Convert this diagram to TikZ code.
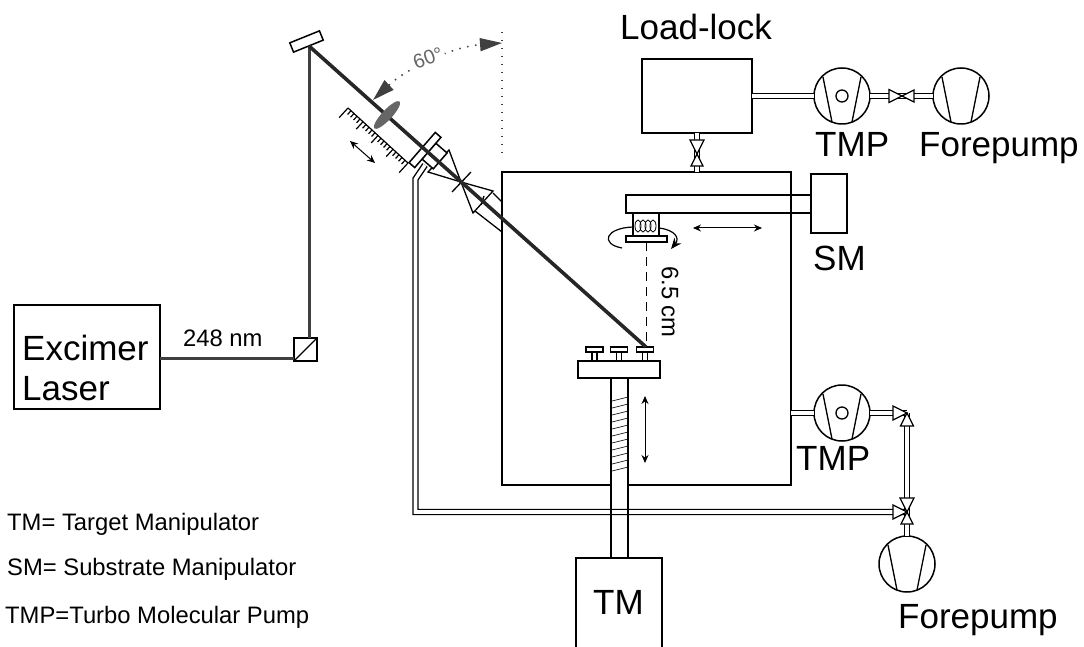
\documentclass[tikz,border=0pt]{standalone}
\usepackage{fontspec}
\setmainfont{Liberation Sans}
\usetikzlibrary{calc,arrows.meta,shapes.geometric}
\tikzset{
  box/.style={draw,line width=1.5pt,inner sep=0pt,outer sep=0pt},
  pump/.style={draw,circle,line width=1.5pt,minimum size=56pt,inner sep=0pt,outer sep=0pt},
  pipe/.style={line width=1.4pt,double,double distance=3.6pt},
  valve/.style={draw,fill=white,line width=1.2pt},
  biglabel/.style={anchor=base west,inner sep=0pt,font=\fontsize{35}{35}\selectfont},
  smalllabel/.style={anchor=base west,inner sep=0pt,font=\fontsize{23.8}{24}\selectfont},
  beam/.style={line width=3.6pt,black!85},
  thinbeam/.style={line width=3pt,black!75},
  shift arrow/.style={line width=1pt,{Stealth[length=8pt,width=7pt]}-{Stealth[length=8pt,width=7pt]}},
  angle dots/.style={black!75,line width=1.5pt,dash pattern=on 1.5pt off 6.5pt},
  angle tip/.style={{Triangle[length=22pt,width=13pt]}-{Triangle[length=22pt,width=13pt]}}
}
\begin{document}
\begin{tikzpicture}[x=1pt,y=-1pt]
\useasboundingbox (0,0) rectangle (1084,647);
% chamber and pumps
\node[box,minimum width=289pt,minimum height=313pt] (chamber) at (646.5,328.5) {};
\node[box,minimum width=110pt,minimum height=74pt] (loadlock) at (697,96) {};
\node[box,minimum width=36pt,minimum height=59pt] (sm) at (829,203.5) {};
\node[box,minimum width=185pt,minimum height=18pt] (arm) at (718.5,204) {};
\node[pump] (tmpa) at (842,96) {};
\node[pump] (forea) at (961,96) {};
\node[pump] (tmpb) at (842,413) {};
\node[pump] (foreb) at (907,564) {};
\foreach \pumpname in {tmpa,forea,tmpb,foreb}{
  \draw[line width=1.3pt] ($(\pumpname)+(-19,-19)$) -- ($(\pumpname)+(-10,26)$);
  \draw[line width=1.3pt] ($(\pumpname)+(19,-19)$) -- ($(\pumpname)+(10,26)$);
}
\foreach \pumpname in {tmpa,tmpb}
  \draw[line width=1.3pt] (\pumpname) circle (6);
% target stage
\node[box,fill=white,minimum width=17pt,minimum height=180pt] (shaft) at (619.5,468) {};
\node[box,minimum width=82pt,minimum height=17pt,fill=white] (stage) at (619,369.5) {};
\foreach \x in {594.5,619,645}{
  \draw[line width=1.3pt] (\x-2.5,352) rectangle (\x+2.5,361);
  \draw[line width=1.3pt,fill=white] (\x-8.5,347) rectangle (\x+8.5,352);
}
\foreach \y in {397,404,...,469}
  \draw[line width=.6pt] (612,\y+4) -- (628,\y);
\draw[shift arrow] (645,396) -- (645,463);
\node[inner sep=0pt,minimum width=86pt,minimum height=89pt] (tmbox) at (619,602.5) {};
\draw[line width=1.5pt] (tmbox.south west) -- (tmbox.north west) -- (tmbox.north east) -- (tmbox.south east);
% pipes and valves
\coordinate (lockv) at (697,154);
\coordinate (pumpv) at (902,96);
\coordinate (cornerv) at (907,413);
\coordinate (lowv) at (907,512);
\coordinate (pipebend) at (415.5,179);
\draw[pipe] (loadlock) -- (tmpa);
\draw[pipe] (tmpa) -- (pumpv);
\draw[pipe] (pumpv) -- (forea);
\draw[pipe] (loadlock.south) -- (lockv);
\draw[pipe] (lockv) -- (lockv |- chamber.north);
\draw[pipe] (chamber.east |- tmpb) -- (tmpb);
\draw[pipe] (tmpb) -- (cornerv);
\draw[pipe] (cornerv) -- (lowv);
\draw[pipe] (lowv) -- (foreb);
\draw[pipe] (425,165) -- (pipebend) -- (pipebend |- lowv) -- (lowv);
\draw[line width=1.5pt] (shaft.north west) -- (shaft.south west);
\draw[line width=1.5pt] (shaft.north east) -- (shaft.south east);
\foreach \v/\sx/\sy in {lockv/0/-14,lockv/0/12,pumpv/-13/0,pumpv/12/0,cornerv/-14/0,cornerv/0/13,lowv/0/-14,lowv/-14/0,lowv/0/12}
  \draw[valve] (\v) -- ($(\v)+({\sx+\sy/2},{\sy+\sx/2})$) -- ($(\v)+({\sx-\sy/2},{\sy-\sx/2})$) -- cycle;
% substrate holder
\node[box,fill=white,minimum width=26pt,minimum height=23pt] (heater) at (646,224.5) {};
\node[box,fill=white,minimum width=41pt,minimum height=6pt] (plate) at (646.5,239) {};
\foreach \x in {638,643,648,653}
  \draw[line width=.8pt] (\x,226) ellipse (3 and 6);
\draw[line width=1.2pt] (622,248) .. controls (600,244) and (605,228) .. (633,227);
\draw[line width=1.2pt,-{Stealth[length=11pt,width=9pt]}] (659,228) .. controls (675,230) and (680,238) .. (671,249);
\draw[shift arrow] (693,228) -- (762,228);
% optics
\coordinate (spot) at (646,347);
\coordinate (turn) at (309,46);
\coordinate (focus) at (461,182);
\node[box,fill=white,minimum width=32pt,minimum height=10pt,rotate=22] (mirror) at (306.5,41.5) {};
\node[box,minimum width=146pt,minimum height=104pt] (laser) at (87,357) {};
\node[box,minimum width=23pt,minimum height=23pt] (cube) at (305.5,349.5) {};
\draw[line width=1.3pt] (cube.south west) -- (cube.north east);
\draw[thinbeam] (laser.east |- 0,358) -- (cube.west |- 0,358);
\draw[thinbeam] (cube.north -| turn) -- (turn);
\draw[line width=1.3pt] (493,193) -- (502,202);
\draw[line width=1.3pt] (475,211) -- (502,232);
\draw[line width=1.3pt] (449,150) -- (focus) -- (428,172) -- cycle;
\draw[line width=1.3pt] (493,191) -- (focus) -- (473,213) -- cycle;
\draw[line width=1.3pt] (484,196) -- (481,205);
\draw[line width=1.3pt] (452,192) -- (471,172);
\node[box,fill=white,minimum width=21pt,minimum height=15pt,rotate=49] (flangeb) at (434.5,156) {};
\node[box,fill=white,minimum width=40pt,minimum height=7.5pt,rotate=49] (flangea) at (425,150) {};
\draw[beam] (turn) -- (spot);
\node[draw=none,fill=black!60,ellipse,minimum width=37pt,minimum height=10pt,inner sep=0pt,rotate=47] (focuslens) at (387,115) {};
% ruler
\coordinate (rulera) at (348,108);
\coordinate (rulerb) at (408,163);
\draw[line width=1.2pt] (rulera) -- (rulerb);
\foreach \i in {0,...,20}{
  \pgfmathsetmacro{\ticklen}{ifthenelse(mod(\i,20)==0,13,ifthenelse(mod(\i,5)==0,10,5))}
  \draw[line width=1.2pt] ($(rulera)!\i/20!(rulerb)$) -- +(-.68*\ticklen,.74*\ticklen);
}
\draw[shift arrow] (350,141) -- (375,163);
% angle
\coordinate (arcstart) at (373,100);
\coordinate (arcend) at (502,43);
\draw[angle dots] (502,32) -- (502,160);
\draw[angle dots,angle tip] (arcstart) .. controls (405,70) and (450,47) .. (arcend);
\node[fill=white,text=black!60,inner sep=2pt,rotate=20,font=\fontsize{20}{20}\selectfont] (anglelabel) at (428,58) {60°};
\draw[dash pattern=on 9pt off 6pt,line width=1.2pt] (plate.south) -- (plate.south |- spot);
% labels
\node[biglabel] (excimer) at (22,360) {Excimer};
\node[biglabel] (laserlabel) at (22,400) {Laser};
\node[biglabel] (locklabel) at (620,40) {Load-lock};
\node[biglabel] (tmpalabel) at (815,157) {TMP};
\node[biglabel] (forealabel) at (919,157) {Forepump};
\node[biglabel] (smlabel) at (813,270) {SM};
\node[biglabel] (tmpblabel) at (796,470) {TMP};
\node[biglabel] (foreblabel) at (898,628) {Forepump};
\node[biglabel] (tmlabel) at (593,614) {TM};
\node[smalllabel] (nmlabel) at (183,346) {248 nm};
\node[smalllabel,rotate=-90,anchor=center] (distlabel) at (670,302) {6.5 cm};
\node[smalllabel] (legenda) at (7,530) {TM= Target Manipulator};
\node[smalllabel] (legendb) at (7,575) {SM= Substrate Manipulator};
\node[smalllabel] (legendc) at (5,623) {TMP=Turbo Molecular Pump};
\end{tikzpicture}
\end{document}
